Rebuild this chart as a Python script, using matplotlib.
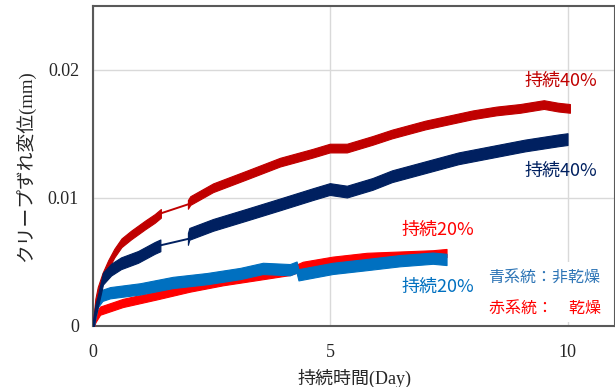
import matplotlib
matplotlib.use("Agg")
import matplotlib.pyplot as plt
import numpy as np

# ---- data: creep slip displacement (mm) vs. sustained time (day) ----
# 持続40% 乾燥 (two recorded segments, gap between them)
dry40_day_a = [0, 0.05, 0.1, 0.2, 0.32, 0.45, 0.6, 0.8, 0.95, 1.1, 1.3, 1.43]
dry40_val_a = [0, 0.0018, 0.0027, 0.0038, 0.0048, 0.0057, 0.0065, 0.0071, 0.0075, 0.0079, 0.0084, 0.0088]
dry40_day_b = [2.0, 2.05, 2.53, 3.24, 3.94, 4.63, 4.99, 5.35, 5.89, 6.3, 6.7, 7.0, 7.5, 8.0, 8.5, 9.0,
               9.5, 9.8, 10.05]
dry40_val_b = [0.0095, 0.0098, 0.0108, 0.0118, 0.0128, 0.0135, 0.0139, 0.0139, 0.0145, 0.0150, 0.0154,
               0.0157, 0.0161, 0.0165, 0.0168, 0.0170, 0.0173, 0.0171, 0.0170]

# 持続40% 非乾燥
wet40_day_a = [0, 0.05, 0.1, 0.21, 0.38, 0.59, 0.95, 1.3, 1.42]
wet40_val_a = [0, 0.0012, 0.0019, 0.0037, 0.0044, 0.0049, 0.0054, 0.0061, 0.0063]
wet40_day_b = [2.0, 2.03, 2.53, 3.24, 3.94, 4.63, 4.99, 5.35, 5.89, 6.3, 7.0, 7.7, 8.4, 9.1, 9.8, 10.0]
wet40_val_b = [0.0068, 0.0072, 0.0079, 0.0087, 0.0095, 0.0103, 0.0107, 0.0105, 0.0111, 0.0117,
               0.0124, 0.0131, 0.0136, 0.0141, 0.0145, 0.0146]

# 持続20% 乾燥
dry20_day = [0, 0.05, 0.15, 0.63, 1.35, 2.04, 2.74, 3.45, 4.15, 4.3, 4.42, 5.05, 5.77, 6.46, 7.16, 7.45]
dry20_val = [0, 0.0006, 0.0012, 0.0018, 0.0024, 0.0030, 0.0035, 0.0039, 0.0043, 0.0045, 0.0047,
             0.0051, 0.0054, 0.0055, 0.0056, 0.0057]

# 持続20% 非乾燥
wet20_day = [0, 0.05, 0.1, 0.2, 0.36, 0.99, 1.68, 2.4, 3.1, 3.58, 4.15, 4.29, 4.33, 5.05, 5.77, 6.46,
             7.16, 7.45]
wet20_val = [0, 0.0010, 0.0019, 0.0024, 0.0026, 0.0029, 0.0034, 0.0037, 0.0041, 0.0045, 0.0044,
             0.0046, 0.0040, 0.0045, 0.0048, 0.0051, 0.0053, 0.0052]

# scatter half-width of each measured trace (mm)
spread = {"dry40": 0.00034, "wet40": 0.00046, "dry20": 0.00032, "wet20": 0.00044}

x_ticks = [0, 5, 10]
y_ticks = [0, 0.01, 0.02]
y_tick_labels = ["0", "0.01", "0.02"]

C_DRY40 = "#C00000"
C_WET40 = "#002060"
C_DRY20 = "#FF0000"
C_WET20 = "#0070C0"

JP = ["Noto Sans CJK JP", "DejaVu Sans"]
MIXED = ["Liberation Serif", "Noto Sans CJK JP"]

fig = plt.figure(figsize=(6.15, 3.87), dpi=100)
ax = fig.add_axes([93 / 615, 61 / 387, 522 / 615, 320 / 387])


def band(days, vals, hw, color, z):
    d = np.asarray(days)
    v = np.asarray(vals)
    ax.fill_between(d, v - hw, v + hw, color=color, lw=0.8, ec=color, zorder=z)


def link(d0, v0, d1, v1, color, z):
    ax.plot([d0, d1], [v0, v1], color=color, lw=1.4, zorder=z)


band(dry20_day, dry20_val, spread["dry20"], C_DRY20, 3)
band(wet20_day, wet20_val, spread["wet20"], C_WET20, 4)

band(dry40_day_a, dry40_val_a, spread["dry40"], C_DRY40, 5)
band(dry40_day_b, dry40_val_b, spread["dry40"], C_DRY40, 5)
link(dry40_day_a[-1], dry40_val_a[-1], dry40_day_b[0], dry40_val_b[0], C_DRY40, 5)

band(wet40_day_a, wet40_val_a, spread["wet40"], C_WET40, 6)
band(wet40_day_b, wet40_val_b, spread["wet40"], C_WET40, 6)
link(wet40_day_a[-1], wet40_val_a[-1], wet40_day_b[0], wet40_val_b[0], C_WET40, 6)

ax.set_xlim(0, 11)
ax.set_ylim(0, 0.025)
ax.set_xticks(x_ticks)
ax.set_xticklabels([str(t) for t in x_ticks], fontfamily="Liberation Serif", fontsize=13)
ax.set_yticks(y_ticks)
ax.set_yticklabels(y_tick_labels, fontfamily="Liberation Serif", fontsize=13)
ax.tick_params(axis="x", length=0, pad=13, colors="#262626")
ax.tick_params(axis="y", length=0, pad=10, colors="#262626")
ax.grid(True, color="#D9D9D9", lw=1.0, zorder=0)
ax.set_axisbelow(True)
for s in ax.spines.values():
    s.set_color("#595959")
    s.set_linewidth(1.5)

ax.set_xlabel("持続時間(Day)", family=MIXED, fontsize=13, color="#262626", va="center", ha="center")
ax.xaxis.set_label_coords(0.5, -0.1625)
ax.set_ylabel("クリープずれ変位(mm)", family=MIXED, fontsize=13.5, color="#262626", va="center", ha="center")
ax.yaxis.set_label_coords(-0.130, 0.5)

# series labels
ax.text(9.85, 0.01914, "持続40%", color=C_DRY40, family=JP, fontsize=13, ha="center", va="center")
ax.text(9.85, 0.01214, "持続40%", color=C_WET40, family=JP, fontsize=13, ha="center", va="center")
ax.text(7.26, 0.00755, "持続20%", color=C_DRY20, family=JP, fontsize=13, ha="center", va="center")
ax.text(7.26, 0.00303, "持続20%", color=C_WET20, family=JP, fontsize=13, ha="center", va="center")

# colour key box
ax.add_patch(plt.Rectangle(((480 - 93) / 47.5, (326 - 322) / 12850), 132 / 47.5, 60 / 12850,
                           facecolor="white", edgecolor="none", zorder=7))
ax.text((545 - 93) / 47.5, (326 - 277) / 12850, "青系統：非乾燥", color="#2E75B6", family=JP,
        fontsize=11.5, ha="center", va="center", zorder=8)
ax.text((545 - 93) / 47.5, (326 - 308) / 12850, "赤系統：　乾燥", color=C_DRY20, family=JP,
        fontsize=11.5, ha="center", va="center", zorder=8)

fig.savefig("out.png", dpi=100)
